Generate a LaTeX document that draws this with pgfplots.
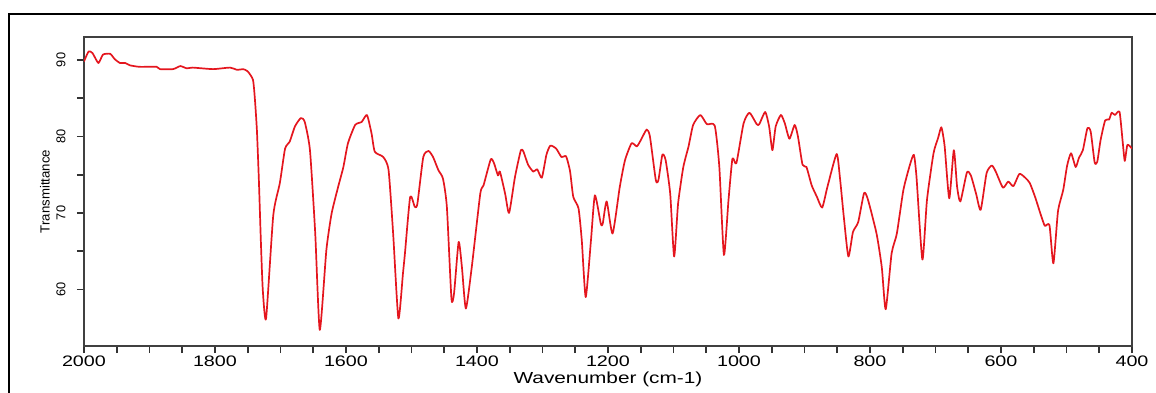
\documentclass[border=0pt]{standalone}
\usepackage{fontspec}
\setmainfont{Liberation Sans}
\usepackage{pgfplots}
\pgfplotsset{compat=1.18}
\usepackage{pgfplotstable}

% FT-IR spectrum: wavenumber (cm-1) vs. transmittance (%)
\pgfplotstableread{
w T
2000 89.8
1993 91.1
1987 90.9
1978 89.6
1971 90.7
1960 90.8
1953 90.1
1945 89.6
1937 89.6
1930 89.3
1915 89.1
1889 89.1
1884 88.8
1864 88.8
1853 89.2
1843 88.9
1834 89.0
1803 88.8
1777 89.0
1766 88.7
1757 88.8
1750 88.5
1742 87.4
1739 84.8
1736 80.8
1733 74.3
1730 66.4
1727 59.9
1722 56.2
1711 69.7
1701 73.9
1693 78.4
1686 79.3
1678 81.3
1669 82.4
1663 81.9
1655 78.2
1647 67.4
1640 54.7
1630 65.1
1622 69.9
1612 73.4
1604 76.0
1597 79.1
1586 81.5
1576 81.9
1568 82.8
1561 80.4
1556 78.0
1543 77.3
1535 75.6
1528 67.3
1520 56.2
1513 62.1
1510 64.7
1502 72.1
1495 70.8
1491 71.2
1482 77.3
1474 78.1
1467 77.3
1459 75.6
1452 74.5
1446 70.8
1439 58.8
1435 59.5
1428 66.2
1423 62.9
1417 57.5
1408 62.9
1395 72.5
1390 73.6
1379 77.0
1374 76.5
1368 74.9
1365 75.4
1357 72.5
1351 70.0
1342 74.7
1333 78.2
1329 78.0
1322 76.3
1314 75.4
1308 75.7
1301 74.6
1294 77.6
1288 78.8
1279 78.4
1271 77.3
1264 77.4
1258 75.5
1253 72.1
1245 70.6
1240 66.4
1234 59.0
1226 66.4
1220 72.3
1211 68.6
1208 68.6
1202 71.5
1193 67.3
1182 73.4
1174 76.9
1164 79.1
1156 78.7
1150 79.5
1141 80.9
1136 80.0
1127 74.3
1123 74.3
1117 77.6
1112 76.9
1105 72.5
1099 64.3
1093 71.2
1085 76.0
1077 78.7
1070 81.5
1059 82.8
1049 81.6
1037 81.4
1030 76.0
1023 64.5
1016 71.7
1010 77.1
1004 76.5
993 81.7
984 83.1
973 81.6
969 81.6
960 83.2
954 81.3
949 78.2
944 81.3
936 82.8
930 81.7
923 79.7
915 81.5
910 80.0
903 76.3
897 76.0
889 73.6
881 72.1
873 70.7
865 73.4
851 77.7
846 74.7
840 69.5
833 64.3
826 67.5
818 68.8
809 72.6
803 71.7
790 67.3
782 62.9
776 57.4
767 64.7
759 67.3
749 73.0
739 76.3
733 77.6
729 74.7
720 63.9
713 71.7
703 77.8
696 79.8
691 81.2
686 78.7
679 71.9
672 78.2
667 73.4
662 71.5
652 75.3
646 74.9
638 72.5
631 70.4
622 75.2
614 76.2
608 75.4
597 73.3
589 74.1
581 73.5
572 75.1
563 74.6
556 73.9
548 72.1
539 69.7
533 68.3
526 68.4
520 63.4
513 70.2
505 73.0
499 76.2
493 77.8
486 76.0
481 77.2
475 78.2
468 81.1
463 80.6
457 76.6
453 76.7
448 79.5
441 82.1
435 82.2
431 83.1
426 82.8
419 83.2
414 79.1
411 76.8
407 78.9
400 78.4
}\spectrum

\begin{document}
\begin{tikzpicture}[x=0.5pt,y=0.5pt]
  % page area and the frame round the figure
  \useasboundingbox (-84,-46) rectangle (1072,346);
  \draw[line width=1pt, black] (-75,-60) -- (-75,332) -- (1090,332);
  \begin{axis}[
    at={(0,0)}, anchor=south west,
    scale only axis,
    width=524pt, height=154.5pt,
    x dir=reverse,
    xmin=400, xmax=2000,
    ymin=52.6, ymax=93,
    xtick={400,600,...,2000},
    minor x tick num=3,
    ytick={60,70,80,90},
    minor y tick num=1,
    tick align=outside,
    xtick pos=left, ytick pos=left,
    major tick length=3.5pt, minor tick length=3.5pt,
    every tick/.style={line width=0.9pt, black!80},
    axis line style={line width=0.7pt, black!75},
    /pgf/number format/assume math mode=true,
    /pgf/number format/set thousands separator={},
    xticklabel style={font=\fontsize{7.6}{8}\selectfont, xscale=1.3, inner sep=1pt},
    yticklabel style={font=\fontsize{6.4}{7}\selectfont, rotate=90, anchor=south, inner sep=1pt},
    yticklabel shift=4.5pt,
    xlabel={Wavenumber (cm-1)},
    ylabel={Transmittance},
    xlabel style={font=\fontsize{8}{9}\selectfont, xscale=1.3, at={(axis description cs:0.5,0)}, anchor=north, yshift=-13pt, inner sep=0pt},
    ylabel style={font=\fontsize{6.6}{7}\selectfont, at={(axis description cs:-0.0372,0.5)}, anchor=center, inner sep=0pt},
    clip=true,
  ]
    \addplot[color={rgb,255:red,228;green,22;blue,30}, line width=0.85pt, line join=round, smooth, tension=0.35] table[x=w, y=T] {\spectrum};
  \end{axis}
\end{tikzpicture}
\end{document}
